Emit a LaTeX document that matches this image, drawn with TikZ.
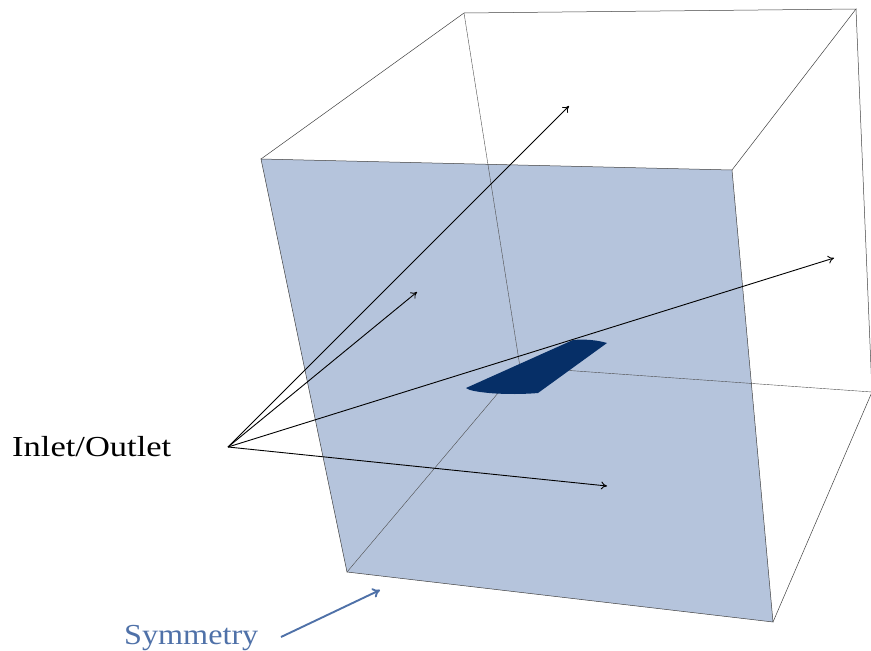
\documentclass[tikz,border=0pt]{standalone}
\usepackage{fontspec}
\setmainfont{Liberation Serif}
\newfontfamily\iofont[FakeStretch=1.19]{Liberation Serif}
\newfontfamily\symfont[FakeStretch=1.11]{Liberation Serif}
\usetikzlibrary{arrows.meta}
\definecolor{facefill}{HTML}{B5C4DC}
\definecolor{wingfill}{HTML}{062F67}
\definecolor{symblue}{HTML}{4F71A8}
\tikzset{
  px/.style={x=1pt,y=-1pt},
  edgeline/.style={draw=black!75,line width=0.5pt},
  hiddenline/.style={draw=black!70,line width=0.4pt},
  pointer/.style={draw=black,line width=0.9pt,-{To[length=6pt,width=8pt]}},
  symarrow/.style={draw=symblue,line width=1.9pt,-{To[length=7.5pt,width=10pt]}},
  lab/.style={inner sep=0pt,anchor=base west},
}
\begin{document}
\begin{tikzpicture}[px]
\useasboundingbox (0,0) rectangle (871,651);
\coordinate (A) at (261,159);
\coordinate (B) at (732,170);
\coordinate (C) at (773,622);
\coordinate (D) at (347,572);
\coordinate (E) at (464,13);
\coordinate (F) at (856,9);
\coordinate (G) at (872,392);
\coordinate (H) at (520,367);
\coordinate (src) at (228,447);
\coordinate (t1) at (569,106);
\coordinate (t2) at (417,292);
\coordinate (t3) at (834,258);
\coordinate (t4) at (607,486);
\coordinate (s0) at (281,637);
\coordinate (s1) at (380,590);
\fill[facefill] (A) -- (B) -- (C) -- (D) -- cycle;
\path[hiddenline] (E) -- (H) (D) -- (H) (G) -- (H);
\path[edgeline] (A) -- (B) -- (C) -- (D) -- cycle;
\path[edgeline] (A) -- (E) -- (F) -- (B);
\path[edgeline] (F) -- (G) -- (C);
\fill[wingfill] (466,388) -- (573,340) .. controls (585,339) and (597,340) .. (607,343)
  -- (538,393) .. controls (515,395) and (485,394) .. (470,390) -- cycle;
\node[lab,font=\iofont\fontsize{29}{32}\selectfont] (io) at (12,456) {Inlet/Outlet};
\node[lab,text=symblue,font=\symfont\fontsize{29}{32}\selectfont] (sym) at (124,644) {Symmetry};
\path[pointer] (src) -- (t1);
\path[pointer] (src) -- (t2);
\path[pointer] (src) -- (t3);
\path[pointer] (src) -- (t4);
\path[symarrow] (s0) -- (s1);
\end{tikzpicture}
\end{document}
